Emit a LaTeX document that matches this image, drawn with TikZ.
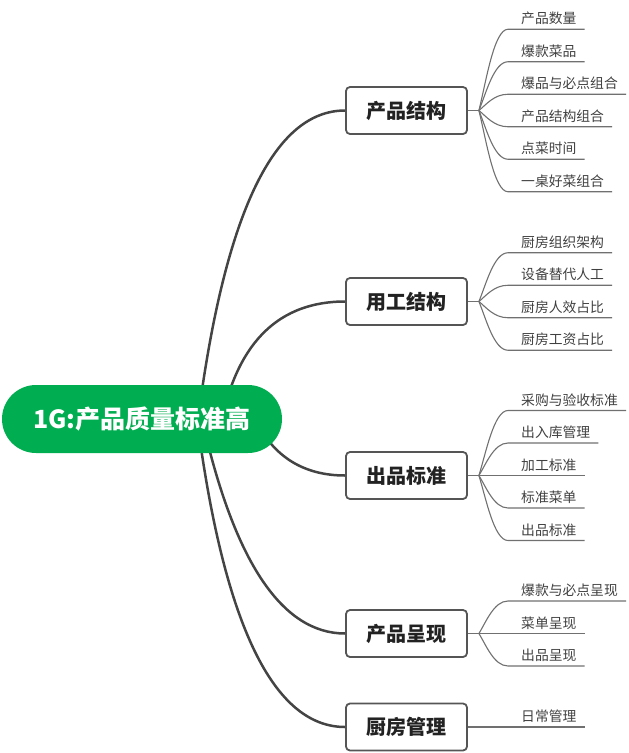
\documentclass[tikz,border=0pt]{standalone}
\usepackage{fontspec}
\setmainfont{Noto Sans CJK SC}
\usetikzlibrary{backgrounds}
\definecolor{rootgreen}{RGB}{0,173,80}
\definecolor{trunkgray}{HTML}{444444}
\definecolor{twiggray}{HTML}{707070}
\definecolor{boxgray}{HTML}{555555}
\definecolor{maintext}{HTML}{222222}
\definecolor{leaftext}{HTML}{404040}
\begin{document}
\begin{tikzpicture}[x=1pt,y=-1pt,
  root/.style={fill=rootgreen, text=white, font=\bfseries\fontsize{25}{30}\selectfont,
    minimum width=280pt, minimum height=68pt, rounded corners=34pt, inner sep=0pt},
  mainbox/.style={draw=boxgray, line width=1.8pt, fill=white, rounded corners=4pt,
    minimum width=121pt, minimum height=47pt, font=\bfseries\fontsize{20}{23}\selectfont,
    text=maintext, inner sep=0pt},
  leaf/.style={anchor=south west, inner xsep=0pt, inner ysep=4pt,
    font=\fontsize{13.8}{16}\selectfont, text=leaftext},
  trunk/.style={draw=trunkgray, line width=2.5pt},
  twig/.style={draw=twiggray, line width=1.1pt},
]
\useasboundingbox (0,0) rectangle (629,753);

% root
\node[root] (root) at (142,419) {1G:产品质量标准高};

% main boxes
\node[mainbox] (b1) at (406.5,110.5) {产品结构};
\node[mainbox] (b2) at (406.5,301.5) {用工结构};
\node[mainbox] (b3) at (406.5,475.5) {出品标准};
\node[mainbox] (b4) at (406.5,633.5) {产品呈现};
\node[mainbox] (b5) at (406.5,727) {厨房管理};

% trunk curve start points (hidden under root)
\coordinate (sA) at (198,419);
\coordinate (sB) at (222,419);
\coordinate (sC) at (255,419);
\coordinate (sD) at (202,419);
\coordinate (sE) at (197,419);

\begin{scope}[on background layer]
\draw[trunk] (sA) .. controls (224.7,213) and (274,110.5) .. (b1.west);
\draw[trunk] (sB) .. controls (238.7,341) and (280,301.5) .. (b2.west);
\draw[trunk] (sC) .. controls (273,456.3) and (303.3,475.5) .. (b3.west);
\draw[trunk] (sD) .. controls (234,561.7) and (282,633.5) .. (b4.west);
\draw[trunk] (sE) .. controls (223.7,624.3) and (273.3,727) .. (b5.west);
\end{scope}

% fan points
\coordinate (f1) at ([xshift=11pt]b1.east);
\coordinate (f2) at ([xshift=11pt]b2.east);
\coordinate (f3) at ([xshift=11pt]b3.east);
\coordinate (f4) at ([xshift=11pt]b4.east);
\coordinate (f5) at ([xshift=11pt]b5.east);
\foreach \k in {1,...,5} \draw[twig] (b\k.east) -- (f\k);

% group 1
\foreach \txt/\dy [count=\i] in {产品数量/-81.25,爆款菜品/-48.75,爆品与必点组合/-16.25,产品结构组合/16.25,点菜时间/48.75,一桌好菜组合/81.25}{
  \node[leaf] (pa\i) at (521,110.5+\dy) {\txt};
  \draw[twig] (f1) .. controls (486,110.5+0.35*\dy) and (494,110.5+\dy) .. ([xshift=-13pt]pa\i.south west) -- ([xshift=8pt]pa\i.south east);
}
% group 2
\foreach \txt/\dy [count=\i] in {厨房组织架构/-48.75,设备替代人工/-16.25,厨房人效占比/16.25,厨房工资占比/48.75}{
  \node[leaf] (pb\i) at (521,301.5+\dy) {\txt};
  \draw[twig] (f2) .. controls (486,301.5+0.35*\dy) and (494,301.5+\dy) .. ([xshift=-13pt]pb\i.south west) -- ([xshift=8pt]pb\i.south east);
}
% group 3
\foreach \txt/\dy [count=\i] in {采购与验收标准/-65,出入库管理/-32.5,加工标准/0,标准菜单/32.5,出品标准/65}{
  \node[leaf] (pc\i) at (521,475.5+\dy) {\txt};
  \draw[twig] (f3) .. controls (486,475.5+0.35*\dy) and (494,475.5+\dy) .. ([xshift=-13pt]pc\i.south west) -- ([xshift=8pt]pc\i.south east);
}
% group 4
\foreach \txt/\dy [count=\i] in {爆款与必点呈现/-32.5,菜单呈现/0,出品呈现/32.5}{
  \node[leaf] (pd\i) at (521,633.5+\dy) {\txt};
  \draw[twig] (f4) .. controls (486,633.5+0.35*\dy) and (494,633.5+\dy) .. ([xshift=-13pt]pd\i.south west) -- ([xshift=8pt]pd\i.south east);
}
% group 5
\node[leaf] (pe1) at (521,727) {日常管理};
\draw[twig] (f5) -- ([xshift=-13pt]pe1.south west) -- ([xshift=8pt]pe1.south east);
\end{tikzpicture}
\end{document}
